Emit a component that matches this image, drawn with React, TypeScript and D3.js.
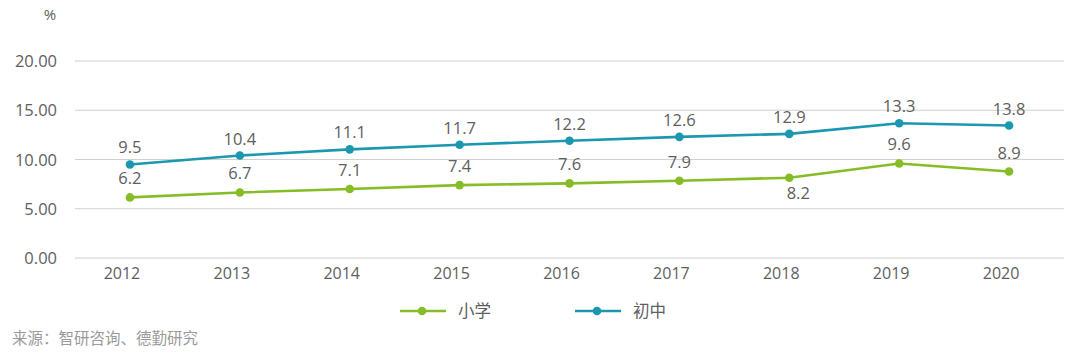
import React from "react";
import * as d3 from "d3";

const years = ["2012", "2013", "2014", "2015", "2016", "2017", "2018", "2019", "2020"];
const primaryValues = [6.15, 6.65, 7.0, 7.4, 7.58, 7.85, 8.15, 9.6, 8.78];
const primaryLabels = ["6.2", "6.7", "7.1", "7.4", "7.6", "7.9", "8.2", "9.6", "8.9"];
const juniorValues = [9.5, 10.4, 11.03, 11.5, 11.9, 12.3, 12.6, 13.68, 13.45];
const juniorLabels = ["9.5", "10.4", "11.1", "11.7", "12.2", "12.6", "12.9", "13.3", "13.8"];
const yTicks = [0, 5, 10, 15, 20];
const seriesNames = ["小学", "初中"];

const W = 1080;
const H = 355;
const FONT = "'Open Sans', 'Noto Sans CJK SC', sans-serif";
const GREEN = "#86bc25";
const BLUE = "#1b98b0";
const TEXT = "#5e5e5e";

export default function App() {
  const x = d3.scaleBand<string>().domain(years).range([75, 1064]);
  const y = d3.scaleLinear().domain([0, 20]).range([258, 61]);
  const cx = (d: string) => (x(d) as number) + x.bandwidth() / 2;

  const line = d3
    .line<number>()
    .x((_, i) => cx(years[i]))
    .y((v) => y(v));

  const series = [
    { name: seriesNames[0], values: primaryValues, labels: primaryLabels, color: GREEN },
    { name: seriesNames[1], values: juniorValues, labels: juniorLabels, color: BLUE },
  ];

  return (
    <svg
      width={W}
      height={H}
      style={{ position: "absolute", left: 0, top: 0, background: "#fff" }}
      fontFamily={FONT}
    >
      <text x={50} y={20} fontSize={15} fill={TEXT} textAnchor="middle">%</text>
      {yTicks.map((t) => (
        <g key={t}>
          <line x1={75} x2={1064} y1={y(t)} y2={y(t)} stroke="#d0d0d0" strokeWidth={1.2} />
          <text x={57} y={y(t) + 6} fontSize={16.5} fill={TEXT} textAnchor="end">
            {t.toFixed(2)}
          </text>
        </g>
      ))}
      {years.map((yr) => (
        <text key={yr} x={cx(yr) - 8} y={279} fontSize={16} fill={TEXT} textAnchor="middle">
          {yr}
        </text>
      ))}
      {series.map((s) => (
        <g key={s.name}>
          <path d={line(s.values) || ""} fill="none" stroke={s.color} strokeWidth={2.6} />
          {s.values.map((v, i) => (
            <circle key={i} cx={cx(years[i])} cy={y(v)} r={4.3} fill={s.color} />
          ))}
        </g>
      ))}
      {series.map((s, si) =>
        s.values.map((v, i) => {
          const below = si === 0 && years[i] === "2018";
          const dy = below ? 21 : si === 0 ? -13 : -11;
          const dx = below ? 9 : 0;
          return (
            <text
              key={s.name + i}
              x={cx(years[i]) + dx}
              y={y(v) + dy}
              fontSize={16.5}
              fill={TEXT}
              textAnchor="middle"
            >
              {s.labels[i]}
            </text>
          );
        })
      )}
      {series.map((s, si) => {
        const lx = 400 + si * 175;
        return (
          <g key={"lg" + s.name}>
            <line x1={lx} x2={lx + 46} y1={311} y2={311} stroke={s.color} strokeWidth={2.6} />
            <circle cx={lx + 22} cy={311} r={4.3} fill={s.color} />
            <text x={lx + 58} y={317} fontSize={16.5} fill={TEXT}>{s.name}</text>
          </g>
        );
      })}
      <text x={12} y={344} fontSize={15.5} fill="#9a9a9a">来源：智研咨询、德勤研究</text>
    </svg>
  );
}
